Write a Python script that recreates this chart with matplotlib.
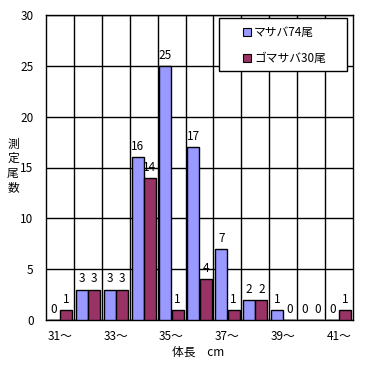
import numpy as np
import matplotlib
matplotlib.use('Agg')
import matplotlib.pyplot as plt
from matplotlib.lines import Line2D
from matplotlib.patches import Rectangle

plt.rcParams['font.family'] = ['Noto Sans CJK JP', 'DejaVu Sans']

# 体長階級 (cm)
lengths = [31, 32, 33, 34, 35, 36, 37, 38, 39, 40, 41]
masaba = [0, 3, 3, 16, 25, 17, 7, 2, 1, 0, 0]
gomasaba = [1, 3, 3, 14, 1, 4, 1, 2, 0, 0, 1]
series_names = ['マサバ74尾', 'ゴマサバ30尾']
colors = ['#9999FF', '#993366']

W, H = 371, 365
fs = 8.5
fig = plt.figure(figsize=(W/100, H/100), dpi=100)
ax = fig.add_axes([46/W, 1 - 320/H, 307/W, 305/H])

x = np.arange(len(lengths))
w = 0.43
b1 = ax.bar(x - w/2 - 0.005, masaba, w, color=colors[0], edgecolor='black', linewidth=1, zorder=3)
b2 = ax.bar(x + w/2 + 0.005, gomasaba, w, color=colors[1], edgecolor='black', linewidth=1, zorder=3)

for bars, vals in ((b1, masaba), (b2, gomasaba)):
    for r, v in zip(bars, vals):
        ax.text(r.get_x() + r.get_width()/2, v + 0.4, str(v), ha='center', va='bottom', fontsize=fs)

ax.set_xlim(-0.5, len(lengths) - 0.5)
ax.set_ylim(0, 30)
ax.set_yticks(range(0, 31, 5))
ax.set_xticks(x[::2])
ax.set_xticklabels([f'{l}～' for l in lengths[::2]], fontsize=fs)
ax.tick_params(axis='y', labelsize=fs, length=0, pad=9)
ax.tick_params(axis='x', length=0, pad=7)

for xb in np.arange(0.5, len(lengths) - 0.5, 1):
    ax.axvline(xb, color='black', linewidth=1, zorder=1)
ax.yaxis.grid(True, color='black', linewidth=1, zorder=1)
ax.set_axisbelow(True)
for s in ax.spines.values():
    s.set_linewidth(1)

# 縦書きの軸ラベル
for i, ch in enumerate('測定尾数'):
    fig.text(13/W, 1 - (144 + 14.5*i)/H, ch, ha='center', va='center', fontsize=fs)
fig.text(198/W, 1 - 352/H, '体長　cm', ha='center', va='center', fontsize=fs)

# 凡例
fig.patches.append(Rectangle((219/W, 1 - 71/H), 128/W, 53/H, transform=fig.transFigure,
                             facecolor='white', edgecolor='black', linewidth=1, zorder=4))
for i, (name, c) in enumerate(zip(series_names, colors)):
    yy = 1 - (32 + 26*i)/H
    fig.lines.append(Line2D([247/W], [yy], marker='s', markersize=5.5, markerfacecolor=c,
                            markeredgecolor='black', markeredgewidth=0.8, linestyle='none',
                            transform=fig.transFigure, zorder=5))
    fig.text(254/W, yy, name, ha='left', va='center', fontsize=fs, zorder=5)

fig.savefig('out.png', dpi=100)
